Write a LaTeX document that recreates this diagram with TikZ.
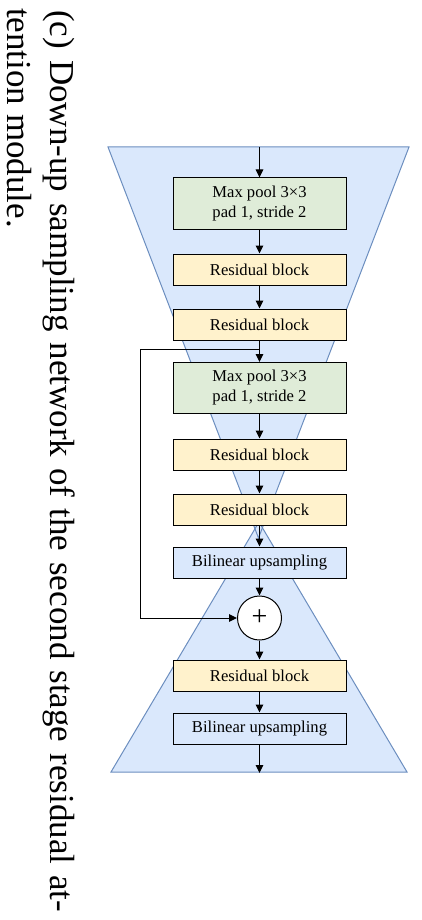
\documentclass[tikz,border=0pt]{standalone}
\usepackage{fontspec}
\setmainfont{Liberation Serif}
\usetikzlibrary{arrows.meta,calc}
\definecolor{tribg}{HTML}{DAE8FC}
\definecolor{triline}{HTML}{6C8EBF}
\definecolor{grn}{HTML}{DFECD8}
\definecolor{ylw}{HTML}{FFF2CC}
\definecolor{blu}{HTML}{DAE8FC}
\begin{document}
\begin{tikzpicture}[x=1pt,y=1pt,
  blk/.style={draw=black, line width=1pt, minimum width=173pt, minimum height=31pt, inner sep=0pt, font=\fontsize{16.6}{20}\selectfont, align=center},
  pool/.style={blk, fill=grn, minimum height=51pt},
  res/.style={blk, fill=ylw},
  ups/.style={blk, fill=blu},
  arr/.style={-{Triangle[length=8pt,width=7.5pt]}, line width=1pt},
  captext/.style={rotate=-90, anchor=base west, inner sep=0pt, font=\fontsize{35}{42}\selectfont}
]
\path[use as bounding box] (0,0) rectangle (422,-920);
% hourglass background
\fill[tribg] (108,-147) -- (409,-147) -- (258.5,-538) -- cycle;
\fill[tribg] (111,-772) -- (407,-772) -- (259,-522) -- cycle;
\draw[triline, line width=1pt] (108,-147) -- (409,-147) -- (258.5,-538) -- cycle;
\draw[triline, line width=1pt] (111,-772) -- (407,-772) -- (259,-522) -- cycle;
% blocks
\node[pool] (b1) at (259.5,-203.5) {Max pool 3×3\\pad 1, stride 2};
\node[res]  (b2) at (259.5,-269.5) {Residual block};
\node[res]  (b3) at (259.5,-324.5) {Residual block};
\node[pool] (b4) at (259.5,-388) {Max pool 3×3\\pad 1, stride 2};
\node[res]  (b5) at (259.5,-454.5) {Residual block};
\node[res]  (b6) at (259.5,-509.5) {Residual block};
\node[ups]  (b7) at (259.5,-562.5) {Bilinear upsampling};
\node[circle, draw=black, fill=white, line width=1pt, minimum size=44pt, inner sep=0pt] (plus) at (259.5,-618) {\fontsize{28}{28}\selectfont +};
\node[res]  (b8) at (259.5,-675.5) {Residual block};
\node[ups]  (b9) at (259.5,-728.5) {Bilinear upsampling};
\coordinate (in) at (259.5,-147);
\coordinate (out) at (259.5,-773);
\coordinate (sk) at (259.5,-349.5);
\coordinate (skl) at (140.5,-349.5);
% connectors
\draw[arr] (in) -- (b1);
\draw[arr] (b1) -- (b2);
\draw[arr] (b2) -- (b3);
\draw[arr] (b3) -- (b4);
\draw[arr] (b4) -- (b5);
\draw[arr] (b5) -- (b6);
\draw[arr] (b6) -- (b7);
\draw[arr] (b7) -- (plus);
\draw[arr] (plus) -- (b8);
\draw[arr] (b8) -- (b9);
\draw[arr] (b9) -- (out);
\draw[arr] (sk) -- (skl) |- (plus.west);
% caption
\node[captext] (c1) at (50,-10) {\makebox[902pt][s]{(c) Down-up sampling network of the second stage residual at-}};
\node[captext] (c2) at (7,-8) {tention module.};
\end{tikzpicture}
\end{document}
